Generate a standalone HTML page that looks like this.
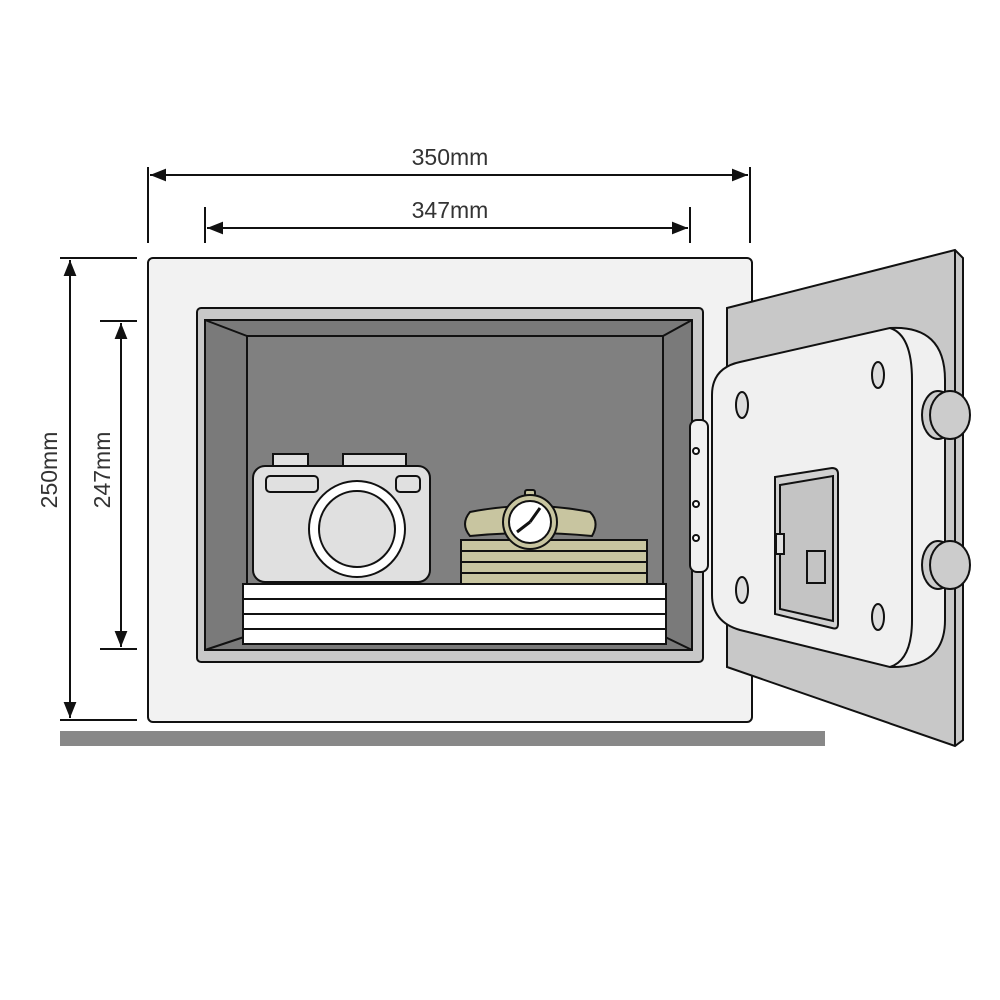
<!DOCTYPE html>
<html><head><meta charset="utf-8"><style>
html,body{margin:0;padding:0;background:#fff;width:1000px;height:1000px;overflow:hidden}
svg{display:block}
text{font-family:"Liberation Sans",sans-serif;fill:#333}
</style></head><body>
<svg width="1000" height="1000" viewBox="0 0 1000 1000" xmlns="http://www.w3.org/2000/svg">
<defs>
<marker id="a" viewBox="0 0 10 10" refX="10" refY="5" markerWidth="8" markerHeight="8" orient="auto-start-reverse">
<path d="M0,1 L10,5 L0,9 z" fill="#111"/></marker>
</defs>
<g stroke="#111" stroke-width="2" fill="none">
<!-- dimension lines -->
<line x1="148" y1="167" x2="148" y2="243"/>
<line x1="750" y1="167" x2="750" y2="243"/>
<line x1="150" y1="175" x2="748" y2="175" marker-start="url(#a)" marker-end="url(#a)"/>
<line x1="205" y1="207" x2="205" y2="243"/>
<line x1="690" y1="207" x2="690" y2="243"/>
<line x1="207" y1="228" x2="688" y2="228" marker-start="url(#a)" marker-end="url(#a)"/>
<line x1="60" y1="258" x2="137" y2="258"/>
<line x1="60" y1="720" x2="137" y2="720"/>
<line x1="70" y1="260" x2="70" y2="718" marker-start="url(#a)" marker-end="url(#a)"/>
<line x1="100" y1="321" x2="137" y2="321"/>
<line x1="100" y1="649" x2="137" y2="649"/>
<line x1="121" y1="323" x2="121" y2="647" marker-start="url(#a)" marker-end="url(#a)"/>
</g>
<text x="450" y="165" font-size="23" text-anchor="middle">350mm</text>
<text x="450" y="218" font-size="23" text-anchor="middle">347mm</text>
<text transform="translate(57,470) rotate(-90)" font-size="23" text-anchor="middle">250mm</text>
<text transform="translate(110,470) rotate(-90)" font-size="23" text-anchor="middle">247mm</text>
<!-- ground -->
<rect x="60" y="731" width="765" height="15" fill="#888"/>
<!-- body -->
<g stroke="#111" stroke-width="2">
<rect x="148" y="258" width="604" height="464" rx="5" fill="#f2f2f2"/>
<rect x="197" y="308" width="506" height="354" rx="4" fill="#c8c8c8"/>
<rect x="205" y="320" width="487" height="330" fill="#7a7a7a"/>
<rect x="247" y="336" width="416" height="300" fill="#808080"/>
<line x1="205" y1="320" x2="247" y2="336"/>
<line x1="692" y1="320" x2="663" y2="336"/>
<line x1="205" y1="650" x2="247" y2="636"/>
<line x1="692" y1="650" x2="663" y2="636"/>
<!-- shelf papers -->
<rect x="243" y="584" width="423" height="60" fill="#fff"/>
<line x1="243" y1="599" x2="666" y2="599"/>
<line x1="243" y1="614" x2="666" y2="614"/>
<line x1="243" y1="629" x2="666" y2="629"/>
<!-- camera -->
<rect x="273" y="454" width="35" height="13" fill="#e0e0e0"/>
<rect x="343" y="454" width="63" height="13" fill="#e0e0e0"/>
<rect x="253" y="466" width="177" height="116" rx="12" fill="#e0e0e0"/>
<rect x="266" y="476" width="52" height="16" rx="4" fill="#e0e0e0"/>
<rect x="396" y="476" width="24" height="16" rx="4" fill="#e0e0e0"/>
<circle cx="357" cy="529" r="48" fill="#fff"/>
<circle cx="357" cy="529" r="38" fill="#e0e0e0"/>
<!-- money -->
<rect x="461" y="540" width="186" height="44" fill="#c8c5a0"/>
<line x1="461" y1="551" x2="647" y2="551"/>
<line x1="461" y1="562" x2="647" y2="562"/>
<line x1="461" y1="573" x2="647" y2="573"/>
<!-- watch -->
<path d="M470,512 Q530,500 590,512 Q600,522 592,536 Q530,530 470,536 Q460,524 470,512 z" fill="#c8c5a0"/>
<rect x="525" y="490" width="10" height="6" rx="2" fill="#c8c5a0"/>
<circle cx="530" cy="522" r="27" fill="#c8c5a0"/>
<circle cx="530" cy="522" r="21" fill="#fff"/>
<path d="M530,522 L540,508 M530,522 L517,532" stroke-width="3"/>
<!-- door -->
<path d="M727,308 L955,250 L963,258 L963,740 L955,746 L727,667 z" fill="#c8c8c8"/>
<line x1="955" y1="250" x2="955" y2="746"/>
<rect x="690" y="420" width="18" height="152" rx="7" fill="#f0f0f0"/>
<circle cx="696" cy="451" r="3" fill="#fff"/>
<circle cx="696" cy="504" r="3" fill="#fff"/>
<circle cx="696" cy="538" r="3" fill="#fff"/>
<path d="M740,362 L890,328 Q945,325 945,380 L945,620 Q945,668 890,667 L740,630 Q712,622 712,595 L712,395 Q712,368 740,362 z" fill="#f0f0f0"/>
<path d="M890,328 Q912,335 912,380 L912,620 Q912,660 890,667" fill="none"/>
<path d="M775,477 L832,468 Q838,468 838,474 L838,624 Q838,630 832,628 L775,614 z" fill="#d0d0d0"/>
<path d="M780,485 L833,476 L833,621 L780,609 z" fill="#c4c4c4"/>
<rect x="776" y="534" width="8" height="20" fill="#e0e0e0"/>
<rect x="807" y="551" width="18" height="32" fill="#c4c4c4"/>
<ellipse cx="742" cy="405" rx="6" ry="13" fill="#ddd"/>
<ellipse cx="878" cy="375" rx="6" ry="13" fill="#ddd"/>
<ellipse cx="742" cy="590" rx="6" ry="13" fill="#ddd"/>
<ellipse cx="878" cy="617" rx="6" ry="13" fill="#ddd"/>
<ellipse cx="938" cy="415" rx="16" ry="24" fill="#ccc"/>
<ellipse cx="950" cy="415" rx="20" ry="24" fill="#ccc"/>
<ellipse cx="938" cy="565" rx="16" ry="24" fill="#ccc"/>
<ellipse cx="950" cy="565" rx="20" ry="24" fill="#ccc"/>
</g>
</svg>
</body></html>
